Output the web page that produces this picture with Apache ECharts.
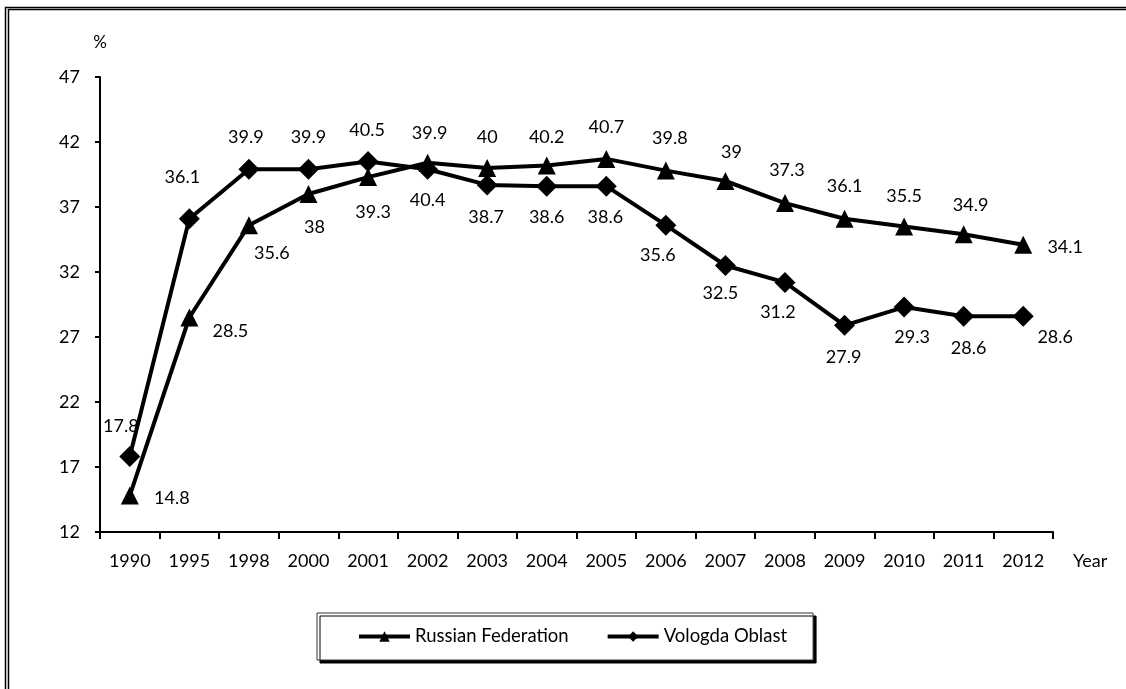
<!DOCTYPE html>
<html>
<head>
<meta charset="utf-8">
<script src="https://cdn.jsdelivr.net/npm/echarts@6/dist/echarts.min.js"></script>
<style>
html,body{margin:0;padding:0;background:#fff;}
#chart{width:1126px;height:689px;}
</style>
</head>
<body>
<div id="chart"></div>
<script>
var years = ['1990','1995','1998','2000','2001','2002','2003','2004','2005','2006','2007','2008','2009','2010','2011','2012'];
var russianFederation = [14.8, 28.5, 35.6, 38, 39.3, 40.4, 40, 40.2, 40.7, 39.8, 39, 37.3, 36.1, 35.5, 34.9, 34.1];
var vologdaOblast = [17.8, 36.1, 39.9, 39.9, 40.5, 39.9, 38.7, 38.6, 38.6, 35.6, 32.5, 31.2, 27.9, 29.3, 28.6, 28.6];
var seriesNames = ['Russian Federation', 'Vologda Oblast'];
var yMin = 12, yMax = 47, yStep = 5;

// label placement (layout only): offsets of each value label from its point
var rfLabelOffsets = [[42,3],[41,14],[23,28],[6,33],[5,35],[0,37],[0,-31],[0,-28],[0,-32],[4,-32],[6,-29],[2,-33],[0,-33],[0,-30],[7,-29],[42,2]];
var voLabelOffsets = [[-9,-30],[-7,-42],[-3,-32],[0,-32],[-1,-31],[2,-36],[-1,32],[0,31],[-1,31],[-8,30],[-5,28],[-7,30],[-1,32],[8,30],[5,32],[32,21]];

var FONT = 'Lato';
function withLabels(values, offsets) {
  return values.map(function (v, i) {
    return { value: v, label: { offset: offsets[i] } };
  });
}

var chart = echarts.init(document.getElementById('chart'), null, { renderer: 'canvas' });
chart.setOption({
  backgroundColor: '#fff',
  animation: false,
  textStyle: { fontFamily: FONT },
  graphic: [
    { type: 'rect', silent: true, shape: { x: 5.5, y: 7.5, width: 1300, height: 900 }, style: { fill: 'none', stroke: '#000', lineWidth: 1.5 } },
    { type: 'rect', silent: true, shape: { x: 8.5, y: 9.5, width: 1300, height: 900 }, style: { fill: 'none', stroke: '#000', lineWidth: 1.5 } }
  ],
  grid: { left: 100, right: 73, top: 77, bottom: 157, containLabel: false },
  legend: {
    data: seriesNames,
    left: 317, top: 613,
    padding: [14, 26, 14, 40],
    itemGap: 37,
    itemWidth: 51, itemHeight: 13,
    backgroundColor: '#fff',
    borderColor: '#333', borderWidth: 1,
    shadowColor: '#000', shadowBlur: 0, shadowOffsetX: 3, shadowOffsetY: 3,
    lineStyle: { width: 4, color: '#000' },
    textStyle: { fontFamily: FONT, fontSize: 18.5, color: '#000' }
  },
  xAxis: {
    type: 'category',
    data: years,
    boundaryGap: true,
    name: 'Year',
    nameLocation: 'end',
    nameGap: 20,
    nameTextStyle: { fontFamily: FONT, fontSize: 18, color: '#000', verticalAlign: 'top', padding: [20, 0, 0, 0] },
    axisLine: { lineStyle: { color: '#000', width: 2 } },
    axisTick: { show: true, inside: false, length: 7, alignWithLabel: false, lineStyle: { color: '#000', width: 2 } },
    axisLabel: { margin: 20, fontFamily: FONT, fontSize: 18, color: '#000', interval: 0 },
    splitLine: { show: false }
  },
  yAxis: {
    type: 'value',
    min: yMin, max: yMax, interval: yStep,
    name: '%',
    nameLocation: 'end',
    nameGap: 26,
    nameTextStyle: { fontFamily: FONT, fontSize: 17, color: '#000', align: 'center' },
    axisLine: { show: true, lineStyle: { color: '#000', width: 2 } },
    axisTick: { show: true, length: 5, lineStyle: { color: '#000', width: 2 } },
    axisLabel: { margin: 20, fontFamily: FONT, fontSize: 18, color: '#000' },
    splitLine: { show: false }
  },
  series: [
    {
      name: seriesNames[1],
      type: 'line',
      data: withLabels(vologdaOblast, voLabelOffsets),
      symbol: 'diamond',
      symbolSize: 21,
      z: 2,
      lineStyle: { color: '#000', width: 4 },
      itemStyle: { color: '#000' },
      label: { show: true, position: 'inside', align: 'center', verticalAlign: 'middle', fontFamily: FONT, fontSize: 18, color: '#000' }
    },
    {
      name: seriesNames[0],
      type: 'line',
      data: withLabels(russianFederation, rfLabelOffsets),
      symbol: 'triangle',
      symbolSize: 18,
      z: 3,
      lineStyle: { color: '#000', width: 4 },
      itemStyle: { color: '#000' },
      label: { show: true, position: 'inside', align: 'center', verticalAlign: 'middle', fontFamily: FONT, fontSize: 18, color: '#000' }
    }
  ]
});
</script>
</body>
</html>
